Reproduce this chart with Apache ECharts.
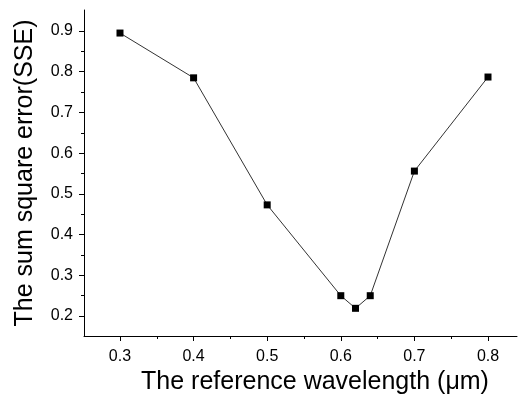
<!DOCTYPE html>
<html><head><meta charset="utf-8">
<script src="https://cdn.jsdelivr.net/npm/echarts@6/dist/echarts.min.js"></script>
<style>html,body{margin:0;padding:0;background:#fff}#c{width:521px;height:397px}</style>
</head><body><div id="c"></div>
<script>
const wavelengths = [0.30, 0.40, 0.50, 0.60, 0.62, 0.64, 0.70, 0.80];
const sse = [0.895, 0.785, 0.473, 0.250, 0.219, 0.250, 0.556, 0.787];
const xMajor = [0.3, 0.4, 0.5, 0.6, 0.7, 0.8];
const xMinor = [0.25, 0.35, 0.45, 0.55, 0.65, 0.75];
const yMajor = [0.2, 0.3, 0.4, 0.5, 0.6, 0.7, 0.8, 0.9];
const yMinor = [0.15, 0.25, 0.35, 0.45, 0.55, 0.65, 0.75, 0.85];
const xTitle = 'The reference wavelength (\u03bcm)';
const yTitle = 'The sum square error(SSE)';

const FONT = 'Liberation Sans, Arial, sans-serif';
const XMIN = 0.2511, XMAX = 0.8394, YMIN = 0.151, YMAX = 0.9516;

const chart = echarts.init(document.getElementById('c'), null, {renderer: 'canvas'});
chart.setOption({
  animation: false,
  backgroundColor: '#fff',
  grid: {left: 84, right: 4, top: 10, bottom: 61, containLabel: false, outerBoundsMode: 'none'},
  xAxis: [{
    type: 'value', min: XMIN, max: XMAX,
    axisLine: {show: true, onZero: false, lineStyle: {color: '#000', width: 1}},
    axisTick: {show: true, inside: false, length: 5, customValues: xMajor, lineStyle: {color: '#000'}},
    axisLabel: {show: true, customValues: xMajor, margin: 13, color: '#000', fontFamily: FONT, fontSize: 16,
      formatter: v => v.toFixed(1)},
    splitLine: {show: false},
    name: xTitle, nameLocation: 'middle', nameGap: 28,
    nameTextStyle: {color: '#000', fontFamily: FONT, fontSize: 25, padding: [0, 0, 0, 29]}
  }, {
    type: 'value', min: XMIN, max: XMAX, position: 'bottom',
    axisLine: {show: false},
    axisTick: {show: true, inside: false, length: 3, customValues: xMinor, lineStyle: {color: '#000'}},
    axisLabel: {show: false}, splitLine: {show: false}
  }],
  yAxis: [{
    type: 'value', min: YMIN, max: YMAX,
    axisLine: {show: true, onZero: false, lineStyle: {color: '#000', width: 1}},
    axisTick: {show: true, inside: false, length: 5, customValues: yMajor, lineStyle: {color: '#000'}},
    axisLabel: {show: true, customValues: yMajor, margin: 11, color: '#000', fontFamily: FONT, fontSize: 16,
      formatter: v => v.toFixed(1)},
    splitLine: {show: false},
    name: yTitle, nameLocation: 'middle', nameGap: 46, nameRotate: 90,
    nameTextStyle: {color: '#000', fontFamily: FONT, fontSize: 25}
  }, {
    type: 'value', min: YMIN, max: YMAX, position: 'left',
    axisLine: {show: false},
    axisTick: {show: true, inside: false, length: 3, customValues: yMinor, lineStyle: {color: '#000'}},
    axisLabel: {show: false}, splitLine: {show: false}
  }],
  series: [{
    type: 'line',
    data: wavelengths.map((w, i) => [w, sse[i]]),
    symbol: 'rect', symbolSize: 7,
    itemStyle: {color: '#000'},
    lineStyle: {color: '#333', width: 1},
    z: 3
  }]
});
</script></body></html>
